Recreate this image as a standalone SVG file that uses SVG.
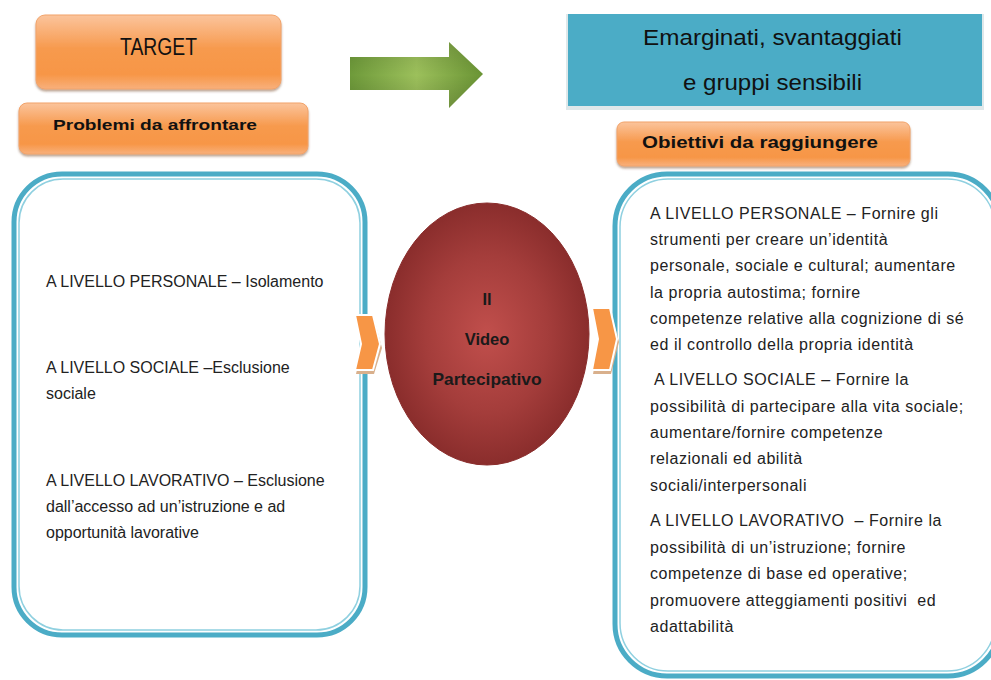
<svg xmlns="http://www.w3.org/2000/svg" width="991" height="680" viewBox="0 0 991 680">
<defs>
<linearGradient id="orangeGrad" x1="0" y1="0" x2="0" y2="1">
<stop offset="0" stop-color="#fbc49c"/>
<stop offset="0.45" stop-color="#f79a4e"/>
<stop offset="0.8" stop-color="#f79646"/>
<stop offset="1" stop-color="#f8b07c"/>
</linearGradient>
<linearGradient id="greenGrad" x1="0" y1="0" x2="1" y2="0">
<stop offset="0" stop-color="#6e9a3a"/>
<stop offset="0.5" stop-color="#9cc05b"/>
<stop offset="1" stop-color="#6a9434"/>
</linearGradient>
<linearGradient id="greenV" x1="0" y1="0" x2="0" y2="1">
<stop offset="0" stop-color="#000" stop-opacity="0.12"/>
<stop offset="0.5" stop-color="#000" stop-opacity="0"/>
<stop offset="1" stop-color="#000" stop-opacity="0.15"/>
</linearGradient>
<radialGradient id="redGrad" cx="0.5" cy="0.5" r="0.5">
<stop offset="0" stop-color="#c14f4c"/>
<stop offset="0.6" stop-color="#a43d3b"/>
<stop offset="1" stop-color="#8a2d2c"/>
</radialGradient>
<filter id="shadow" x="-10%" y="-10%" width="120%" height="130%">
<feDropShadow dx="0" dy="2" stdDeviation="1" flood-color="#7a4a2a" flood-opacity="0.5"/>
</filter>
</defs>
<style>
.orange { fill: url(#orangeGrad); stroke: #f2a36a; stroke-width: 1; filter: url(#shadow); }
.frame { fill: #ffffff; stroke: #4bacc6; stroke-width: 5; }
.frameIn { fill: none; stroke: #8fd0e0; stroke-width: 1.5; }
.chev { fill: #f79646; stroke: #ffffff; stroke-width: 2; }
.chevSh { fill: #d9b08c; }
.body { font-family: "Liberation Sans", Arial, sans-serif; font-size: 16px; fill: #222222; }
.wide { letter-spacing: 0.55px; }
.head { font-family: "Liberation Sans", Arial, sans-serif; fill: #111111; }
.bold { font-family: "Liberation Sans", Arial, sans-serif; font-weight: bold; fill: #111111; }
.oval { font-family: "Liberation Sans", Arial, sans-serif; font-weight: bold; font-size: 16.5px; fill: #1a1a1a; }
</style>

<g id="target">
<rect class="orange" x="36" y="15" width="245" height="74" rx="9"/>
<text class="head" x="120" y="55" font-size="23" textLength="77" lengthAdjust="spacingAndGlyphs">TARGET</text>
</g>

<g id="problemi">
<rect class="orange" x="19" y="103" width="289" height="51" rx="8"/>
<text class="bold" x="53" y="130" font-size="15.5" textLength="204" lengthAdjust="spacingAndGlyphs">Problemi da affrontare</text>
</g>

<g id="arrow">
<path d="M350,57 L449,57 L449,42 L483,74 L449,108 L449,90 L350,90 Z" fill="url(#greenGrad)"/>
<path d="M350,57 L449,57 L449,42 L483,74 L449,108 L449,90 L350,90 Z" fill="url(#greenV)"/>
</g>

<g id="emarginati">
<rect x="566" y="14" width="418" height="96" fill="#dfe8ea"/>
<rect x="568" y="14" width="414" height="92" fill="#4bacc6"/>
<text class="head" x="643" y="45" font-size="22" textLength="259" lengthAdjust="spacingAndGlyphs">Emarginati, svantaggiati</text>
<text class="head" x="683" y="90" font-size="22" textLength="179" lengthAdjust="spacingAndGlyphs">e gruppi sensibili</text>
</g>

<g id="obiettivi">
<rect class="orange" x="617" y="122" width="293" height="44" rx="7"/>
<text class="bold" x="642" y="148" font-size="16.5" textLength="236" lengthAdjust="spacingAndGlyphs">Obiettivi da raggiungere</text>
</g>

<g id="problemi-box">
<rect class="frame" x="14" y="174" width="351" height="461" rx="48"/>
<rect class="frameIn" x="19" y="179" width="341" height="451" rx="44"/>
<text class="body" x="46" y="287">A LIVELLO PERSONALE – Isolamento</text>
<text class="body" x="46" y="373">A LIVELLO SOCIALE –Esclusione</text>
<text class="body" x="46" y="399">sociale</text>
<text class="body" x="46" y="486">A LIVELLO LAVORATIVO – Esclusione</text>
<text class="body" x="46" y="512">dall’accesso ad un’istruzione e ad</text>
<text class="body" x="46" y="538">opportunità lavorative</text>
</g>

<g id="obiettivi-box">
<rect class="frame" x="615" y="174" width="385" height="502" rx="52"/>
<rect class="frameIn" x="620" y="179" width="375" height="492" rx="48"/>
<g class="body wide">
<text x="650" y="219">A LIVELLO PERSONALE – Fornire gli</text>
<text x="650" y="245">strumenti per creare un’identità</text>
<text x="650" y="271">personale, sociale e cultural; aumentare</text>
<text x="650" y="298">la propria autostima; fornire</text>
<text x="650" y="324">competenze relative alla cognizione di sé</text>
<text x="650" y="350">ed il controllo della propria identità</text>
<text x="654" y="385">A LIVELLO SOCIALE – Fornire la</text>
<text x="650" y="412">possibilità di partecipare alla vita sociale;</text>
<text x="650" y="438">aumentare/fornire competenze</text>
<text x="650" y="464">relazionali ed abilità</text>
<text x="650" y="491">sociali/interpersonali</text>
<text x="650" y="526" xml:space="preserve">A LIVELLO LAVORATIVO  – Fornire la</text>
<text x="650" y="553">possibilità di un’istruzione; fornire</text>
<text x="650" y="579">competenze di base ed operative;</text>
<text x="650" y="606" xml:space="preserve">promuovere atteggiamenti positivi  ed</text>
<text x="650" y="632">adattabilità</text>
</g>
</g>

<g id="video">
<ellipse cx="487" cy="334" rx="102" ry="131" fill="url(#redGrad)" stroke="#8a2d2c" stroke-width="1"/>
<text class="oval" x="487" y="305" text-anchor="middle">Il</text>
<text class="oval" x="487" y="345" text-anchor="middle">Video</text>
<text class="oval" x="487" y="385" text-anchor="middle" textLength="109" lengthAdjust="spacingAndGlyphs">Partecipativo</text>
</g>

<g id="connectors">
<path class="chevSh" d="M356,318 L374,318 L382,348 L374,374 L356,374 L362,348 Z"/>
<path class="chev" d="M355,315 L373,315 L380,344 L373,370 L355,370 L361,344 Z"/>
<path class="chevSh" d="M593,311 L611,311 L619,342 L611,374 L593,374 L599,342 Z"/>
<path class="chev" d="M592,308 L610,308 L617,339 L610,370 L592,370 L598,339 Z"/>
</g>
</svg>
